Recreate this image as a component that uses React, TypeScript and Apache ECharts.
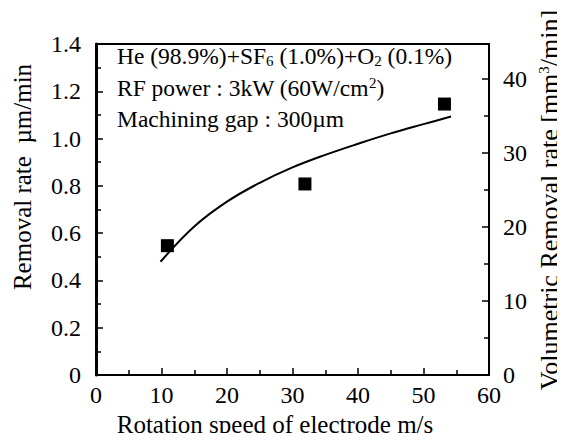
import React, { useEffect, useRef } from "react";
import * as echarts from "echarts";

// Measured removal rates (µm/min) vs electrode rotation speed (m/s)
const measuredSpeed = [10.9, 31.9, 53.2];
const measuredRate = [0.547, 0.808, 1.146];

// Fitted curve
const fitSpeed = [9.85, 15, 20, 25, 30, 35, 40, 45, 50, 54.2];
const fitRate = [0.479, 0.628, 0.733, 0.813, 0.878, 0.931, 0.978, 1.022, 1.061, 1.093];

// Axis ranges
const xRange = [0, 60];
const xStep = 10;
const leftRange = [0, 1.4];
const leftStep = 0.2;
const rightRange = [0, 44.7];
const rightStep = 10;

// Texts
const annotationLines = [
  "He (98.9%)+SF{sub|6} (1.0%)+O{sub|2} (0.1%)",
  "RF power : 3kW (60W/cm{sup|2})",
  "Machining gap : 300µm",
];
const xName = "Rotation speed of electrode m/s";
const leftName = "Removal rate  µm/min";
const rightName = "Volumetric Removal rate [mm{sup|3}/min]";

const FONT = "Liberation Serif, serif";

export default function App() {
  const ref = useRef<HTMLDivElement>(null);
  useEffect(() => {
    if (!ref.current) return;
    const chart = echarts.init(ref.current, null, { renderer: "svg" });
    const axisLabelStyle = { color: "#000", fontFamily: FONT, fontSize: 24 };
    const rich = {
      sub: { fontFamily: FONT, fontSize: 15, verticalAlign: "bottom", lineHeight: 14, fill: "#000", color: "#000" },
      sup: { fontFamily: FONT, fontSize: 15, verticalAlign: "top", lineHeight: 14, fill: "#000", color: "#000" },
    };
    const option: any = {
      animation: false,
      backgroundColor: "#fff",
      textStyle: { fontFamily: FONT },
      grid: {
        left: 96,
        right: 76,
        top: 44,
        bottom: 66,
        show: true,
        borderColor: "#000",
        borderWidth: 2,
        containLabel: false,
      },
      xAxis: {
        type: "value",
        min: xRange[0],
        max: xRange[1],
        interval: xStep,
        axisLine: { lineStyle: { color: "#000", width: 2 } },
        axisTick: { inside: true, length: 7, lineStyle: { color: "#000", width: 1.5 } },
        minorTick: { show: true, splitNumber: 2, length: 5, lineStyle: { color: "#000", width: 1.5 } },
        splitLine: { show: false },
        axisLabel: { ...axisLabelStyle, margin: 8 },
      },
      yAxis: [
        {
          type: "value",
          min: leftRange[0],
          max: leftRange[1],
          interval: leftStep,
          axisLine: { lineStyle: { color: "#000", width: 3 } },
          axisTick: { inside: true, length: 7, lineStyle: { color: "#000", width: 1.5 } },
          minorTick: { show: true, splitNumber: 2, length: 5, lineStyle: { color: "#000", width: 1.5 } },
          splitLine: { show: false },
          axisLabel: {
            ...axisLabelStyle,
            margin: 15,
            formatter: (v: number) => (v === 0 ? "0" : v.toFixed(1)),
          },
        },
        {
          type: "value",
          position: "right",
          min: rightRange[0],
          max: rightRange[1],
          interval: rightStep,
          axisLine: { show: true, lineStyle: { color: "#000", width: 2 } },
          axisTick: { inside: true, length: 7, lineStyle: { color: "#000", width: 1.5 } },
          minorTick: { show: true, splitNumber: 2, length: 5, lineStyle: { color: "#000", width: 1.5 } },
          splitLine: { show: false },
          axisLabel: {
            ...axisLabelStyle,
            margin: 14,
            showMaxLabel: false,
            formatter: (v: number) => (v % 10 === 0 ? String(v) : ""),
          },
        },
      ],
      series: [
        {
          type: "line",
          data: fitSpeed.map((x, i) => [x, fitRate[i]]),
          smooth: 0.4,
          showSymbol: false,
          lineStyle: { color: "#000", width: 2 },
          z: 2,
        },
        {
          type: "scatter",
          data: measuredSpeed.map((x, i) => [x, measuredRate[i]]),
          symbol: "rect",
          symbolSize: 13,
          itemStyle: { color: "#000", opacity: 1 },
          z: 3,
        },
      ],
      graphic: [
        ...annotationLines.map((t, i) => ({
          type: "text",
          x: 117,
          y: 56 + i * 31.5,
          z: 10,
          style: {
            text: t,
            fill: "#000",
            fontFamily: FONT,
            fontSize: 23.5,
            verticalAlign: "middle",
            textVerticalAlign: "middle",
            rich,
          },
        })),
        {
          type: "text",
          x: 275,
          y: 424,
          style: {
            text: xName,
            fill: "#000",
            fontFamily: FONT,
            fontSize: 25,
            align: "center",
            textAlign: "center",
            verticalAlign: "middle",
            textVerticalAlign: "middle",
          },
        },
        {
          type: "text",
          x: 22,
          y: 177,
          rotation: Math.PI / 2,
          style: {
            text: leftName,
            fill: "#000",
            fontFamily: FONT,
            fontSize: 25,
            align: "center",
            textAlign: "center",
            verticalAlign: "middle",
            textVerticalAlign: "middle",
          },
        },
        {
          type: "text",
          x: 549,
          y: 200,
          rotation: Math.PI / 2,
          style: {
            text: rightName,
            fill: "#000",
            fontFamily: FONT,
            fontSize: 26,
            align: "center",
            textAlign: "center",
            verticalAlign: "middle",
            textVerticalAlign: "middle",
            rich,
          },
        },
      ],
    };
    chart.setOption(option);
    return () => chart.dispose();
  }, []);
  return <div ref={ref} style={{ width: 565, height: 441, margin: -8 }} />;
}
